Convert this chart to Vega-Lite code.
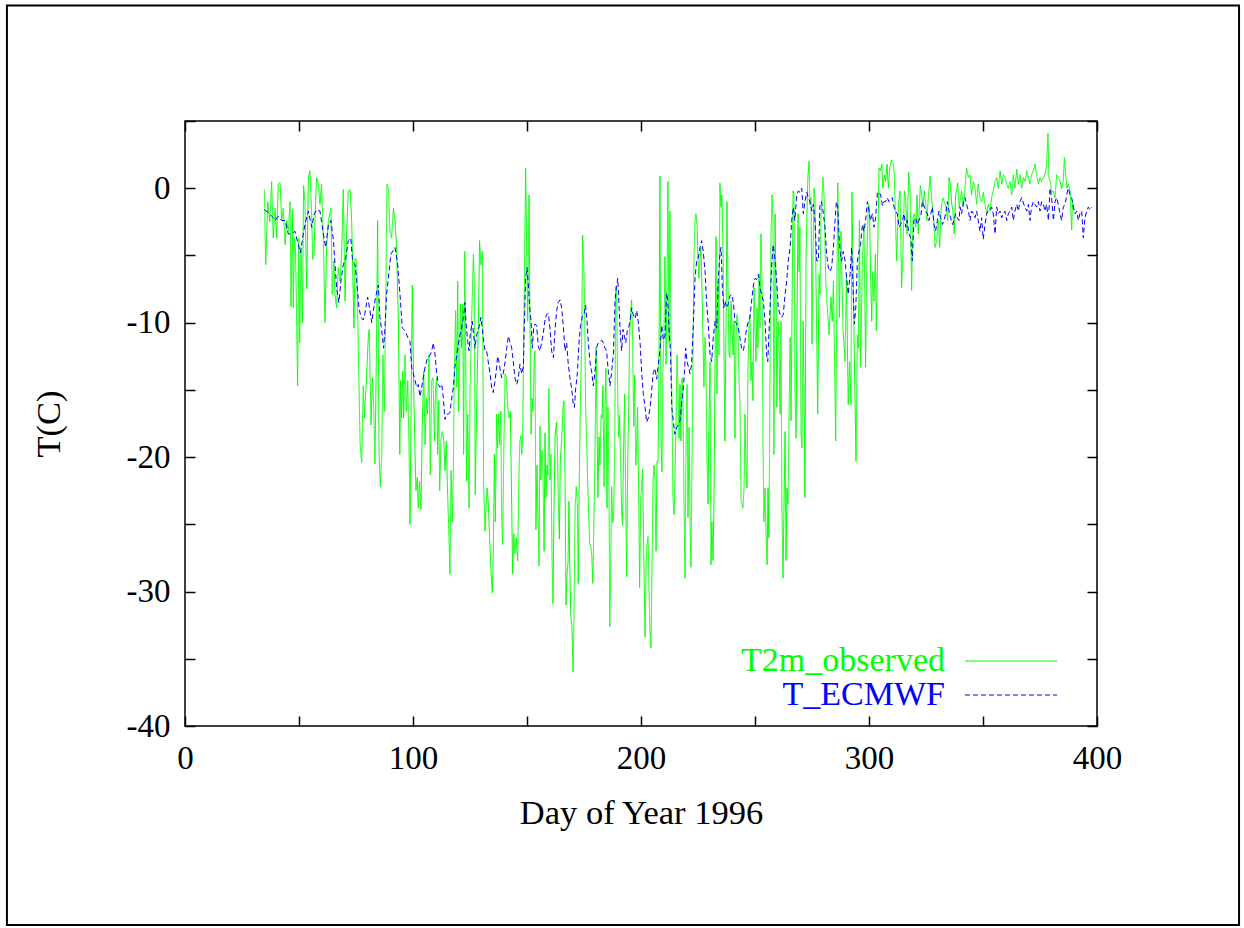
{
"$schema": "https://vega.github.io/schema/vega-lite/v6.json",
"width": 912, "height": 605,
"autosize": {"type": "none"},
"padding": {"left": 185, "top": 121, "right": 147, "bottom": 202},
"background": "white",
"config": {
"view": {"stroke": "black", "strokeWidth": 1.5},
"font": "Liberation Serif",
"legend": {"orient": "none", "legendX": 809, "legendY": 523, "padding": 0, "symbolType": "M-46,0H46", "symbolSize": 4, "symbolStrokeWidth": 1, "labelFont": "Liberation Serif", "labelFontSize": 34, "labelAlign": "right", "labelOffset": -83, "labelLimit": 500, "rowPadding": -6}
},
"datasets": {
"obs": [
{"day":34.8,"temp":-0.1},{"day":35.4,"temp":-5.7},{"day":36.3,"temp":-1.0},{"day":37.2,"temp":-2.5},{"day":38.0,"temp":0.5},{"day":38.7,"temp":-3.7},{"day":39.5,"temp":-1.5},{"day":40.2,"temp":-3.7},{"day":40.9,"temp":0.3},{"day":41.7,"temp":0.4},{"day":42.4,"temp":-2.4},{"day":43.1,"temp":-1.5},{"day":43.9,"temp":-4.2},{"day":44.6,"temp":-2.4},{"day":45.3,"temp":-3.2},{"day":46.1,"temp":-1.0},{"day":46.5,"temp":-8.8},{"day":47.1,"temp":-1.6},{"day":47.5,"temp":-8.9},{"day":48.0,"temp":-3.7},{"day":48.5,"temp":-4.7},{"day":49.4,"temp":-14.7},{"day":49.9,"temp":-3.7},{"day":50.3,"temp":-11.5},{"day":50.9,"temp":-4.4},{"day":51.5,"temp":-10.0},{"day":52.0,"temp":0.2},{"day":52.6,"temp":-1.0},{"day":53.4,"temp":-7.5},{"day":54.1,"temp":0.8},{"day":54.8,"temp":1.3},{"day":55.6,"temp":-2.2},{"day":56.0,"temp":-5.3},{"day":56.6,"temp":-4.9},{"day":57.0,"temp":-2.4},{"day":57.7,"temp":0.8},{"day":58.5,"temp":0.3},{"day":59.2,"temp":-1.2},{"day":59.9,"temp":0.3},{"day":60.7,"temp":-3.9},{"day":61.4,"temp":-10.0},{"day":62.1,"temp":-4.4},{"day":62.9,"temp":-2.4},{"day":64.0,"temp":-1.5},{"day":64.6,"temp":-7.9},{"day":65.3,"temp":-5.4},{"day":65.8,"temp":-7.9},{"day":66.5,"temp":-8.9},{"day":67.2,"temp":-5.9},{"day":68.0,"temp":-6.9},{"day":68.7,"temp":-4.9},{"day":69.4,"temp":-0.1},{"day":70.2,"temp":-8.4},{"day":70.9,"temp":-3.2},{"day":71.6,"temp":-0.2},{"day":72.4,"temp":-0.1},{"day":73.1,"temp":-2.4},{"day":74.1,"temp":-10.4},{"day":74.6,"temp":-5.2},{"day":75.3,"temp":-5.4},{"day":76.8,"temp":-19.1},{"day":77.5,"temp":-20.4},{"day":78.2,"temp":-14.7},{"day":78.7,"temp":-17.1},{"day":79.4,"temp":-14.8},{"day":80.4,"temp":-11.1},{"day":80.8,"temp":-10.5},{"day":81.6,"temp":-17.6},{"day":82.2,"temp":-14.1},{"day":82.7,"temp":-15.8},{"day":83.3,"temp":-20.5},{"day":83.9,"temp":-12.9},{"day":84.5,"temp":-2.4},{"day":85.1,"temp":-19.8},{"day":85.7,"temp":-22.2},{"day":86.3,"temp":-19.8},{"day":86.8,"temp":-12.4},{"day":87.4,"temp":-16.6},{"day":88.0,"temp":-9.4},{"day":88.6,"temp":0.3},{"day":89.2,"temp":0.0},{"day":89.9,"temp":-3.2},{"day":90.6,"temp":-3.7},{"day":91.4,"temp":-1.5},{"day":92.1,"temp":-2.4},
{"day":92.8,"temp":-4.4},{"day":93.6,"temp":-9.9},{"day":94.2,"temp":-19.8},{"day":94.6,"temp":-14.3},{"day":95.0,"temp":-17.1},{"day":95.5,"temp":-13.6},{"day":95.9,"temp":-17.1},{"day":96.5,"temp":-12.4},{"day":97.1,"temp":-16.6},{"day":97.7,"temp":-14.3},{"day":98.3,"temp":-19.8},{"day":98.7,"temp":-25.0},{"day":99.1,"temp":-17.3},{"day":99.7,"temp":-7.2},{"day":100.3,"temp":-14.8},{"day":100.9,"temp":-19.8},{"day":101.3,"temp":-22.5},{"day":101.9,"temp":-21.5},{"day":102.3,"temp":-23.8},{"day":102.9,"temp":-21.8},{"day":103.5,"temp":-23.9},{"day":104.1,"temp":-17.3},{"day":104.7,"temp":-13.6},{"day":105.3,"temp":-19.1},{"day":105.9,"temp":-15.6},{"day":106.4,"temp":-16.8},{"day":107.0,"temp":-12.4},{"day":107.6,"temp":-21.3},{"day":108.2,"temp":-14.3},{"day":108.8,"temp":-14.1},{"day":109.4,"temp":-18.8},{"day":109.9,"temp":-14.8},{"day":110.4,"temp":-14.1},{"day":110.8,"temp":-19.8},{"day":111.3,"temp":-15.8},{"day":111.7,"temp":-22.5},{"day":112.3,"temp":-18.6},{"day":112.9,"temp":-18.1},{"day":113.5,"temp":-18.8},{"day":114.0,"temp":-21.0},{"day":114.6,"temp":-18.8},{"day":115.2,"temp":-22.8},{"day":115.8,"temp":-26.0},{"day":116.2,"temp":-28.7},{"day":116.7,"temp":-21.0},{"day":117.3,"temp":-24.8},{"day":117.7,"temp":-21.0},{"day":118.1,"temp":-13.8},{"day":118.7,"temp":-9.1},{"day":119.2,"temp":-14.8},{"day":119.6,"temp":-6.9},{"day":120.0,"temp":-16.6},{"day":120.5,"temp":-12.4},{"day":120.9,"temp":-8.6},{"day":121.3,"temp":-11.9},{"day":121.8,"temp":-8.6},{"day":122.2,"temp":-19.8},{"day":122.7,"temp":-4.7},{"day":123.1,"temp":-12.4},{"day":123.5,"temp":-21.8},{"day":124.0,"temp":-16.8},{"day":124.6,"temp":-23.8},{"day":125.0,"temp":-15.3},{"day":125.7,"temp":-9.9},{"day":126.5,"temp":-4.9},{"day":126.9,"temp":-7.4},{"day":127.3,"temp":-22.8},{"day":127.9,"temp":-16.3},{"day":128.7,"temp":-9.9},{"day":129.2,"temp":-3.9},{"day":129.8,"temp":-5.7},{"day":130.4,"temp":-4.7},{"day":131.0,"temp":-22.3},{"day":131.6,"temp":-25.5},{"day":132.0,"temp":-23.8},{"day":132.5,"temp":-22.3},{"day":133.0,"temp":-23.3},{"day":133.6,"temp":-26.0},{"day":134.2,"temp":-28.5},{"day":134.8,"temp":-30.1},{"day":135.2,"temp":-27.2},{"day":135.7,"temp":-19.8},{"day":136.1,"temp":-24.8},{"day":136.7,"temp":-16.8},{"day":137.1,"temp":-19.3},{"day":137.6,"temp":-16.8},{"day":138.0,"temp":-19.1},{"day":138.5,"temp":-16.6},{"day":138.9,"temp":-24.3},{"day":139.3,"temp":-26.5},{"day":139.8,"temp":-19.8},{"day":140.4,"temp":-13.8},{"day":140.9,"temp":-14.1},{"day":141.5,"temp":-16.1},{"day":142.1,"temp":-17.1},{"day":142.7,"temp":-16.6},{"day":143.3,"temp":-23.8},{"day":143.7,"temp":-28.7},{"day":144.2,"temp":-25.7},{"day":144.7,"temp":-27.2},{"day":145.3,"temp":-26.0},{"day":145.9,"temp":-27.7},{"day":146.5,"temp":-21.0},{"day":146.9,"temp":-18.8},{"day":147.4,"temp":-18.4},{"day":147.7,"temp":-19.8},{"day":148.1,"temp":-18.6},{"day":148.5,"temp":-12.4},{"day":149.0,"temp":-4.9},{"day":149.4,"temp":1.5},{"day":149.9,"temp":-4.9},{"day":150.3,"temp":-9.9},{"day":150.9,"temp":-0.5},{"day":151.3,"temp":-9.9},{"day":151.8,"temp":-18.3},{"day":152.2,"temp":-15.6},{"day":152.6,"temp":-16.6},{"day":153.2,"temp":-12.4},
{"day":153.5,"temp":-12.1},{"day":153.9,"temp":-25.4},{"day":154.4,"temp":-20.6},{"day":154.8,"temp":-24.1},{"day":155.3,"temp":-28.1},{"day":155.7,"temp":-17.7},{"day":156.1,"temp":-21.7},{"day":156.6,"temp":-19.5},{"day":157.0,"temp":-21.4},{"day":157.5,"temp":-27.0},{"day":157.9,"temp":-18.2},{"day":158.3,"temp":-23.0},{"day":158.8,"temp":-20.6},{"day":159.2,"temp":-21.4},{"day":159.6,"temp":-14.9},{"day":160.1,"temp":-21.7},{"day":160.5,"temp":-19.8},{"day":161.0,"temp":-27.8},{"day":161.4,"temp":-30.9},{"day":161.8,"temp":-24.3},{"day":162.3,"temp":-18.5},{"day":162.9,"temp":-17.4},{"day":163.3,"temp":-19.0},{"day":163.7,"temp":-23.0},{"day":164.2,"temp":-26.1},{"day":164.6,"temp":-20.3},{"day":165.2,"temp":-18.7},{"day":165.8,"temp":-16.3},{"day":166.2,"temp":-15.8},{"day":166.7,"temp":-21.7},{"day":167.1,"temp":-31.0},{"day":167.5,"temp":-28.9},{"day":168.0,"temp":-27.8},{"day":168.4,"temp":-23.3},{"day":168.7,"temp":-27.5},{"day":169.2,"temp":-31.8},{"day":169.7,"temp":-32.6},{"day":170.2,"temp":-36.0},{"day":170.6,"temp":-31.8},{"day":171.1,"temp":-23.8},{"day":171.6,"temp":-22.2},{"day":172.1,"temp":-23.5},{"day":172.5,"temp":-29.4},{"day":172.9,"temp":-21.7},{"day":173.4,"temp":-16.3},{"day":174.0,"temp":-11.0},{"day":174.4,"temp":-3.5},{"day":174.9,"temp":-5.7},{"day":175.3,"temp":-8.9},{"day":175.7,"temp":-16.3},{"day":176.2,"temp":-19.0},{"day":176.6,"temp":-21.7},{"day":177.1,"temp":-24.6},{"day":177.5,"temp":-26.5},{"day":177.9,"temp":-26.5},{"day":178.4,"temp":-27.3},{"day":178.9,"temp":-29.4},{"day":179.4,"temp":-24.1},{"day":179.8,"temp":-20.3},{"day":180.3,"temp":-11.8},{"day":180.7,"temp":-17.1},{"day":181.1,"temp":-23.0},{"day":181.6,"temp":-18.5},{"day":182.0,"temp":-20.6},{"day":182.5,"temp":-16.9},{"day":182.9,"temp":-17.1},{"day":183.3,"temp":-14.7},{"day":183.8,"temp":-22.2},{"day":184.2,"temp":-16.3},{"day":184.6,"temp":-13.4},{"day":185.1,"temp":-23.8},{"day":185.5,"temp":-16.3},{"day":186.0,"temp":-23.0},{"day":186.3,"temp":-32.6},{"day":186.7,"temp":-28.3},{"day":187.1,"temp":-22.2},{"day":187.6,"temp":-24.9},{"day":188.0,"temp":-24.3},{"day":188.5,"temp":-19.0},{"day":188.9,"temp":-7.3},{"day":189.3,"temp":-7.8},{"day":189.8,"temp":-15.8},{"day":190.2,"temp":-18.5},{"day":190.6,"temp":-16.9},{"day":191.1,"temp":-20.6},{"day":191.5,"temp":-24.1},{"day":191.9,"temp":-25.1},{"day":192.4,"temp":-19.0},{"day":192.8,"temp":-15.3},{"day":193.3,"temp":-23.0},{"day":193.7,"temp":-28.9},{"day":194.2,"temp":-20.1},{"day":194.6,"temp":-16.3},{"day":195.0,"temp":-11.0},{"day":195.5,"temp":-9.1},{"day":195.9,"temp":-8.3},{"day":196.3,"temp":-11.0},{"day":196.8,"temp":-17.7},{"day":197.2,"temp":-13.9},{"day":197.7,"temp":-20.6},{"day":198.1,"temp":-19.0},{"day":198.5,"temp":-16.3},{"day":199.0,"temp":-23.0},{"day":199.4,"temp":-29.7},{"day":199.9,"temp":-23.0},{"day":200.3,"temp":-22.2},{"day":200.7,"temp":-20.9},{"day":201.2,"temp":-27.0},{"day":201.8,"temp":-33.4},{"day":202.2,"temp":-28.3},{"day":202.6,"temp":-26.5},{"day":203.1,"temp":-25.9},{"day":203.5,"temp":-29.7},{"day":203.9,"temp":-32.9},{"day":204.4,"temp":-34.2},{"day":204.8,"temp":-28.6},{"day":205.3,"temp":-21.7},{"day":205.7,"temp":-20.6},{"day":206.1,"temp":-21.7},{"day":206.6,"temp":-27.0},{"day":207.0,"temp":-20.3},{"day":207.5,"temp":-20.3},{"day":207.9,"temp":-12.3},{"day":208.3,"temp":0.9},{"day":208.8,"temp":-19.0},{"day":209.2,"temp":-21.1},{"day":209.6,"temp":-13.7},{"day":210.1,"temp":-10.5},{"day":210.5,"temp":-5.1},{"day":211.0,"temp":-13.1},{"day":211.4,"temp":-7.0},{"day":211.8,"temp":0.5},{"day":212.3,"temp":-11.5},{"day":212.7,"temp":-1.7},{"day":213.2,"temp":-12.3},{"day":213.6,"temp":-16.3},{"day":214.0,"temp":-23.0},{"day":214.5,"temp":-24.3},
{"day":214.9,"temp":-21.5},{"day":215.4,"temp":-17.3},{"day":215.8,"temp":-12.4},{"day":216.2,"temp":-14.8},{"day":216.7,"temp":-18.6},{"day":217.1,"temp":-14.6},{"day":217.5,"temp":-18.8},{"day":218.0,"temp":-14.1},{"day":218.4,"temp":-15.6},{"day":218.9,"temp":-24.0},{"day":219.3,"temp":-29.0},{"day":219.7,"temp":-19.8},{"day":220.2,"temp":-14.6},{"day":220.6,"temp":-24.5},{"day":221.1,"temp":-17.8},{"day":221.5,"temp":-24.8},{"day":221.9,"temp":-28.2},{"day":222.4,"temp":-19.8},{"day":222.8,"temp":-12.4},{"day":223.2,"temp":-5.4},{"day":223.7,"temp":-2.4},{"day":224.1,"temp":-1.9},{"day":224.6,"temp":-2.7},{"day":225.0,"temp":-5.4},{"day":225.4,"temp":-6.7},{"day":225.9,"temp":-5.2},{"day":226.3,"temp":-4.4},{"day":226.8,"temp":-7.9},{"day":227.2,"temp":-11.4},{"day":227.6,"temp":-14.8},{"day":228.1,"temp":-11.1},{"day":228.5,"temp":-13.6},{"day":228.9,"temp":-19.8},{"day":229.4,"temp":-23.5},{"day":229.8,"temp":-17.3},{"day":230.3,"temp":-12.9},{"day":230.7,"temp":-28.0},{"day":231.1,"temp":-24.8},{"day":231.6,"temp":-27.7},{"day":232.0,"temp":-23.5},{"day":232.5,"temp":-12.4},{"day":232.9,"temp":-3.6},{"day":233.3,"temp":-15.3},{"day":233.8,"temp":-6.9},{"day":234.2,"temp":-12.4},{"day":234.6,"temp":0.4},{"day":235.1,"temp":-1.4},{"day":235.5,"temp":-0.5},{"day":236.0,"temp":-4.9},{"day":236.4,"temp":-12.4},{"day":236.8,"temp":-18.8},{"day":237.3,"temp":-9.9},{"day":237.7,"temp":-1.0},{"day":238.2,"temp":-7.9},{"day":238.6,"temp":-12.4},{"day":239.0,"temp":-12.6},{"day":239.5,"temp":-8.4},{"day":239.9,"temp":-10.4},{"day":240.4,"temp":-12.4},{"day":240.8,"temp":-9.9},{"day":241.2,"temp":-18.6},{"day":241.7,"temp":-10.9},{"day":242.1,"temp":-9.4},{"day":242.5,"temp":-10.1},{"day":243.0,"temp":-14.3},{"day":243.4,"temp":-15.8},{"day":243.9,"temp":-23.3},{"day":244.3,"temp":-23.5},{"day":244.7,"temp":-23.8},{"day":245.2,"temp":-22.3},{"day":245.6,"temp":-16.8},{"day":246.1,"temp":-21.0},{"day":246.5,"temp":-22.3},{"day":246.9,"temp":-13.6},{"day":247.4,"temp":-9.9},{"day":247.8,"temp":-9.4},{"day":248.2,"temp":-14.3},{"day":248.7,"temp":-12.9},{"day":249.1,"temp":-15.8},{"day":249.6,"temp":-7.4},{"day":250.0,"temp":-10.4},{"day":250.4,"temp":-12.9},{"day":250.9,"temp":-8.9},{"day":251.3,"temp":-11.9},{"day":251.8,"temp":-6.4},{"day":252.2,"temp":-10.4},{"day":252.6,"temp":-3.4},{"day":253.1,"temp":-7.4},{"day":253.5,"temp":-18.8},{"day":253.9,"temp":-24.8},{"day":254.4,"temp":-22.3},{"day":254.8,"temp":-25.3},{"day":255.3,"temp":-28.0},{"day":255.7,"temp":-22.3},{"day":256.1,"temp":-26.0},{"day":256.6,"temp":-13.6},{"day":257.0,"temp":-3.7},{"day":257.5,"temp":-0.5},{"day":257.9,"temp":-2.4},{"day":258.3,"temp":-19.8},{"day":258.8,"temp":-1.9},{"day":259.2,"temp":-7.4},{"day":259.6,"temp":-16.3},{"day":260.1,"temp":-9.9},{"day":260.5,"temp":-11.4},{"day":261.0,"temp":-16.8},{"day":261.4,"temp":-9.9},{"day":261.8,"temp":-23.5},{"day":262.3,"temp":-29.0},{"day":262.7,"temp":-24.0},{"day":263.2,"temp":-18.1},{"day":263.6,"temp":-27.7},{"day":264.0,"temp":-22.3},{"day":264.5,"temp":-23.5},{"day":264.9,"temp":-17.3},{"day":265.4,"temp":-11.1},{"day":265.8,"temp":-17.3},{"day":266.2,"temp":-9.9},{"day":266.7,"temp":-0.2},{"day":267.1,"temp":-0.5},{"day":267.5,"temp":-14.8},{"day":268.0,"temp":-18.6},{"day":268.4,"temp":-9.9},{"day":268.9,"temp":-1.9},{"day":269.3,"temp":-6.2},{"day":269.7,"temp":-2.9},{"day":270.2,"temp":-18.3},{"day":270.6,"temp":-19.3},{"day":271.1,"temp":-9.9},{"day":271.5,"temp":-14.8},{"day":271.9,"temp":-23.0},{"day":272.4,"temp":-4.9},{"day":272.8,"temp":-1.9},{"day":273.2,"temp":0.8},{"day":273.7,"temp":2.0},{"day":274.1,"temp":-1.2},{"day":274.6,"temp":-0.7},{"day":275.0,"temp":-11.6},{"day":275.4,"temp":-5.4},{"day":275.9,"temp":0.0},{"day":276.3,"temp":-0.7},
{"day":277.5,"temp":-16.8},{"day":278.1,"temp":-6.4},{"day":278.5,"temp":-7.9},{"day":278.9,"temp":-2.4},{"day":279.8,"temp":0.8},{"day":280.4,"temp":-1.0},{"day":281.0,"temp":-6.9},{"day":282.5,"temp":-10.9},{"day":283.3,"temp":-8.1},{"day":283.9,"temp":-9.9},{"day":284.4,"temp":-6.9},{"day":285.4,"temp":-18.8},{"day":286.3,"temp":0.4},{"day":287.0,"temp":-9.6},{"day":287.7,"temp":-3.2},{"day":288.6,"temp":-10.4},{"day":289.5,"temp":-12.9},{"day":290.1,"temp":-6.4},{"day":290.9,"temp":-16.1},{"day":291.5,"temp":-12.9},{"day":292.1,"temp":-16.1},{"day":292.5,"temp":-0.3},{"day":293.1,"temp":-7.4},{"day":294.3,"temp":-20.3},{"day":294.9,"temp":-10.9},{"day":295.3,"temp":-11.9},{"day":295.8,"temp":-2.4},{"day":296.3,"temp":-13.3},{"day":297.1,"temp":-5.4},{"day":297.8,"temp":-2.7},{"day":298.5,"temp":-13.3},{"day":299.1,"temp":-4.9},{"day":299.7,"temp":-1.2},{"day":300.2,"temp":-1.4},{"day":300.7,"temp":-6.4},{"day":301.2,"temp":-9.9},{"day":301.6,"temp":-6.2},{"day":302.2,"temp":-8.4},{"day":302.8,"temp":-4.9},{"day":303.2,"temp":-10.6},{"day":303.8,"temp":-4.9},{"day":304.4,"temp":1.5},{"day":305.0,"temp":1.3},{"day":305.6,"temp":1.8},{"day":306.1,"temp":0.0},{"day":306.7,"temp":1.0},{"day":307.3,"temp":0.5},{"day":307.9,"temp":1.8},{"day":308.5,"temp":0.0},{"day":309.1,"temp":1.5},{"day":309.9,"temp":2.1},{"day":310.7,"temp":1.8},{"day":311.1,"temp":1.0},{"day":312.1,"temp":-5.4},{"day":312.9,"temp":-1.2},{"day":313.6,"temp":-0.2},{"day":314.3,"temp":-7.4},{"day":314.8,"temp":-5.4},{"day":315.5,"temp":-0.2},{"day":316.1,"temp":-1.0},{"day":316.7,"temp":-3.4},{"day":317.4,"temp":1.2},{"day":318.0,"temp":0.0},{"day":318.7,"temp":-7.6},{"day":319.3,"temp":-2.2},{"day":319.9,"temp":-1.9},{"day":320.5,"temp":-2.9},{"day":321.1,"temp":-0.5},{"day":321.6,"temp":-3.4},{"day":322.5,"temp":0.2},{"day":323.1,"temp":-0.5},{"day":323.7,"temp":-1.4},{"day":324.3,"temp":-0.2},{"day":324.9,"temp":-1.2},{"day":325.4,"temp":-2.4},{"day":326.0,"temp":-0.7},{"day":326.8,"temp":0.9},{"day":327.2,"temp":-0.2},{"day":327.8,"temp":-1.4},{"day":328.4,"temp":-2.4},{"day":329.0,"temp":-4.4},{"day":329.7,"temp":-3.9},{"day":330.4,"temp":-2.4},{"day":331.0,"temp":-4.4},{"day":331.6,"temp":-1.7},{"day":332.3,"temp":-0.7},{"day":333.0,"temp":-1.0},{"day":333.8,"temp":-1.4},{"day":334.5,"temp":-2.4},{"day":335.1,"temp":0.8},{"day":335.7,"temp":0.3},{"day":336.3,"temp":-1.2},{"day":336.8,"temp":-1.7},{"day":337.4,"temp":-3.4},{"day":338.0,"temp":-0.5},{"day":338.9,"temp":0.4},{"day":339.5,"temp":-1.4},
{"day":339.9,"temp":-1.0},{"day":340.6,"temp":-0.2},{"day":341.4,"temp":-1.4},{"day":342.1,"temp":0.0},{"day":342.8,"temp":1.5},{"day":343.6,"temp":0.8},{"day":344.3,"temp":1.0},{"day":345.0,"temp":-0.5},{"day":345.8,"temp":0.5},{"day":346.5,"temp":0.0},{"day":347.2,"temp":-1.2},{"day":347.9,"temp":0.3},{"day":348.7,"temp":-0.7},{"day":349.4,"temp":-1.0},{"day":350.1,"temp":-0.3},{"day":350.9,"temp":-1.2},{"day":351.6,"temp":-1.9},{"day":352.3,"temp":-1.2},{"day":353.1,"temp":-1.7},{"day":353.8,"temp":-0.7},{"day":354.5,"temp":-0.2},{"day":355.3,"temp":0.5},{"day":356.0,"temp":0.8},{"day":356.7,"temp":0.0},{"day":357.5,"temp":1.3},{"day":358.2,"temp":0.3},{"day":358.9,"temp":1.0},{"day":359.6,"temp":0.8},{"day":360.4,"temp":0.3},{"day":361.1,"temp":0.0},{"day":361.8,"temp":0.5},{"day":362.6,"temp":-0.5},{"day":363.3,"temp":1.0},{"day":364.0,"temp":0.0},{"day":364.8,"temp":1.4},{"day":365.5,"temp":0.3},{"day":366.2,"temp":1.0},{"day":367.0,"temp":0.0},{"day":367.7,"temp":0.8},{"day":368.4,"temp":0.5},{"day":369.2,"temp":1.3},{"day":369.9,"temp":0.8},{"day":370.6,"temp":0.3},{"day":371.3,"temp":1.0},{"day":372.1,"temp":1.3},{"day":372.8,"temp":1.8},{"day":373.5,"temp":1.0},{"day":374.3,"temp":0.3},{"day":375.0,"temp":0.8},{"day":375.7,"temp":0.5},{"day":376.5,"temp":0.8},{"day":377.2,"temp":1.0},{"day":377.9,"temp":1.8},{"day":378.5,"temp":4.1},{"day":378.9,"temp":0.8},{"day":379.5,"temp":0.5},{"day":380.1,"temp":-0.3},{"day":380.9,"temp":-0.2},{"day":381.6,"temp":-0.7},{"day":382.3,"temp":1.0},{"day":383.0,"temp":0.8},{"day":383.8,"temp":0.5},{"day":384.5,"temp":0.0},{"day":385.2,"temp":0.5},{"day":385.7,"temp":2.3},{"day":386.3,"temp":1.0},{"day":386.8,"temp":0.0},{"day":387.4,"temp":0.3},{"day":388.2,"temp":-0.2},{"day":388.9,"temp":-3.1},{"day":389.3,"temp":-1.0},{"day":389.9,"temp":-1.7}
],
"ecm": [
{"day":34.8,"temp":-1.6},{"day":36.5,"temp":-1.8},{"day":38.7,"temp":-2.2},{"day":39.5,"temp":-2.4},{"day":40.9,"temp":-2.1},{"day":42.4,"temp":-2.4},{"day":43.9,"temp":-2.4},{"day":45.3,"temp":-3.4},{"day":46.8,"temp":-3.4},{"day":48.2,"temp":-3.2},{"day":49.7,"temp":-4.2},{"day":50.6,"temp":-4.8},{"day":51.9,"temp":-3.4},{"day":52.6,"temp":-2.7},{"day":54.1,"temp":-1.7},{"day":55.6,"temp":-2.9},{"day":56.7,"temp":-1.9},{"day":57.7,"temp":-1.6},{"day":59.2,"temp":-1.7},{"day":60.7,"temp":-3.4},{"day":61.7,"temp":-4.4},{"day":62.9,"temp":-2.7},{"day":64.0,"temp":-2.4},{"day":65.1,"temp":-3.9},{"day":66.5,"temp":-7.4},{"day":67.5,"temp":-8.5},{"day":68.4,"temp":-6.9},{"day":69.4,"temp":-5.7},{"day":70.5,"temp":-5.2},{"day":71.6,"temp":-3.9},{"day":72.7,"temp":-3.7},{"day":73.5,"temp":-5.4},{"day":74.6,"temp":-5.7},{"day":75.3,"temp":-6.9},{"day":76.3,"temp":-8.9},{"day":77.2,"temp":-9.6},{"day":78.2,"temp":-9.8},{"day":78.9,"temp":-9.3},{"day":80.1,"temp":-8.1},{"day":81.1,"temp":-9.1},{"day":81.9,"temp":-10.0},{"day":82.6,"temp":-9.1},{"day":83.6,"temp":-8.1},{"day":84.8,"temp":-7.2},{"day":85.5,"temp":-9.6},{"day":86.3,"temp":-10.6},{"day":87.1,"temp":-11.9},{"day":87.7,"temp":-10.4},{"day":88.4,"temp":-7.9},{"day":89.5,"temp":-6.2},{"day":90.3,"temp":-4.9},{"day":91.4,"temp":-4.6},
{"day":92.1,"temp":-4.4},{"day":93.3,"temp":-5.7},{"day":94.3,"temp":-7.9},{"day":95.3,"temp":-10.4},{"day":96.5,"temp":-10.6},{"day":97.7,"temp":-11.1},{"day":98.7,"temp":-11.4},{"day":99.4,"temp":-13.3},{"day":100.2,"temp":-13.8},{"day":100.9,"temp":-14.3},{"day":101.6,"temp":-14.8},{"day":102.3,"temp":-14.6},{"day":103.1,"temp":-15.5},{"day":103.8,"temp":-14.8},{"day":104.5,"temp":-14.1},{"day":105.3,"temp":-13.3},{"day":106.4,"temp":-12.6},{"day":107.5,"temp":-12.4},{"day":108.2,"temp":-12.1},{"day":108.9,"temp":-11.5},{"day":109.7,"temp":-12.4},{"day":110.4,"temp":-13.8},{"day":111.1,"temp":-14.6},{"day":111.8,"temp":-14.8},{"day":112.6,"temp":-14.6},{"day":113.3,"temp":-15.6},{"day":114.0,"temp":-17.2},{"day":114.8,"temp":-16.8},{"day":115.5,"temp":-16.8},{"day":116.2,"temp":-16.7},{"day":117.0,"temp":-15.6},{"day":117.7,"temp":-14.8},{"day":118.4,"temp":-13.3},{"day":119.2,"temp":-12.4},{"day":119.9,"temp":-11.6},{"day":120.6,"temp":-10.9},{"day":121.3,"temp":-10.4},{"day":122.1,"temp":-9.6},{"day":122.8,"temp":-8.5},{"day":123.2,"temp":-9.9},{"day":124.0,"temp":-11.4},{"day":124.6,"temp":-12.1},{"day":125.1,"temp":-10.9},{"day":126.0,"temp":-9.9},{"day":126.6,"temp":-10.9},{"day":127.2,"temp":-11.9},{"day":127.9,"temp":-10.9},{"day":128.9,"temp":-10.4},{"day":129.8,"temp":-9.6},{"day":130.4,"temp":-10.4},{"day":131.0,"temp":-11.4},{"day":131.6,"temp":-12.1},{"day":132.3,"temp":-12.1},{"day":133.0,"temp":-12.9},{"day":133.8,"temp":-13.8},{"day":134.5,"temp":-14.8},{"day":135.2,"temp":-15.2},{"day":136.0,"temp":-14.3},{"day":136.7,"temp":-13.3},{"day":137.1,"temp":-12.5},{"day":137.7,"temp":-12.9},{"day":138.3,"temp":-13.6},{"day":138.9,"temp":-14.1},{"day":139.6,"temp":-13.8},{"day":140.4,"temp":-12.9},{"day":141.1,"temp":-11.9},{"day":141.8,"temp":-11.0},{"day":142.5,"temp":-11.4},{"day":143.3,"temp":-11.9},{"day":144.0,"temp":-12.9},{"day":144.7,"temp":-14.1},{"day":145.5,"temp":-14.6},{"day":146.2,"temp":-14.1},{"day":146.9,"temp":-13.1},{"day":147.7,"temp":-13.8},{"day":148.4,"temp":-13.3},{"day":148.8,"temp":-10.4},{"day":149.4,"temp":-6.7},{"day":150.0,"temp":-5.9},{"day":150.6,"temp":-7.2},{"day":151.2,"temp":-8.9},{"day":151.8,"temp":-9.9},{"day":152.3,"temp":-11.9},{"day":152.9,"temp":-10.4},
{"day":153.5,"temp":-10.1},{"day":154.2,"temp":-10.2},{"day":155.0,"temp":-11.8},{"day":155.7,"temp":-12.1},{"day":156.4,"temp":-11.5},{"day":157.2,"temp":-10.7},{"day":157.9,"temp":-9.8},{"day":158.6,"temp":-9.4},{"day":159.4,"temp":-9.3},{"day":160.1,"temp":-10.5},{"day":160.8,"temp":-12.1},{"day":161.6,"temp":-12.6},{"day":162.3,"temp":-10.5},{"day":163.0,"temp":-9.1},{"day":163.7,"temp":-8.5},{"day":164.5,"temp":-8.3},{"day":165.2,"temp":-8.9},{"day":165.9,"temp":-10.2},{"day":166.7,"temp":-12.1},{"day":167.4,"temp":-11.5},{"day":168.1,"temp":-13.1},{"day":168.9,"temp":-14.2},{"day":169.6,"temp":-14.9},{"day":170.3,"temp":-16.1},{"day":170.8,"temp":-16.3},{"day":171.3,"temp":-15.0},{"day":172.1,"temp":-13.7},{"day":172.8,"temp":-11.5},{"day":173.5,"temp":-10.2},{"day":174.3,"temp":-9.5},{"day":175.0,"temp":-9.4},{"day":175.7,"temp":-8.7},{"day":176.3,"temp":-9.9},{"day":176.9,"temp":-11.5},{"day":177.6,"temp":-12.9},{"day":178.4,"temp":-13.7},{"day":179.1,"temp":-14.7},{"day":179.8,"temp":-13.7},{"day":180.6,"temp":-11.8},{"day":181.3,"temp":-11.5},{"day":182.0,"temp":-11.4},{"day":182.8,"temp":-11.3},{"day":183.5,"temp":-11.5},{"day":184.2,"temp":-11.9},{"day":184.9,"temp":-12.1},{"day":185.7,"temp":-13.7},{"day":186.4,"temp":-14.7},{"day":187.1,"temp":-13.7},{"day":187.9,"temp":-12.3},{"day":188.6,"temp":-8.3},{"day":189.3,"temp":-7.3},{"day":189.8,"temp":-6.7},{"day":190.4,"temp":-8.9},{"day":190.9,"temp":-10.7},{"day":191.5,"temp":-12.1},{"day":192.1,"temp":-10.5},{"day":192.7,"temp":-11.0},{"day":193.3,"temp":-11.5},{"day":193.9,"temp":-10.7},{"day":194.4,"temp":-10.5},{"day":195.2,"temp":-9.9},{"day":195.9,"temp":-8.9},{"day":196.6,"temp":-9.4},{"day":197.4,"temp":-9.7},{"day":198.1,"temp":-9.1},{"day":198.8,"temp":-9.9},{"day":199.6,"temp":-11.5},{"day":200.3,"temp":-13.7},{"day":201.0,"temp":-15.3},{"day":201.8,"temp":-16.3},{"day":202.5,"temp":-17.4},{"day":203.2,"temp":-17.1},{"day":204.0,"temp":-16.3},{"day":204.7,"temp":-15.0},{"day":205.4,"temp":-13.7},{"day":206.1,"temp":-13.4},{"day":206.9,"temp":-14.2},{"day":207.6,"temp":-13.1},{"day":208.3,"temp":-12.1},{"day":209.1,"temp":-10.2},{"day":209.8,"temp":-11.3},{"day":210.5,"temp":-11.0},{"day":211.3,"temp":-7.8},{"day":211.7,"temp":-8.3},{"day":212.3,"temp":-10.5},{"day":212.9,"temp":-12.1},{"day":213.5,"temp":-16.3},{"day":214.2,"temp":-17.4},
{"day":214.9,"temp":-18.3},{"day":215.6,"temp":-17.8},{"day":216.4,"temp":-17.6},{"day":217.1,"temp":-17.3},{"day":217.5,"temp":-16.6},{"day":218.1,"temp":-15.6},{"day":218.6,"temp":-14.8},{"day":219.0,"temp":-13.8},{"day":219.6,"temp":-11.9},{"day":220.2,"temp":-12.9},{"day":220.8,"temp":-13.3},{"day":221.5,"temp":-13.8},{"day":222.2,"temp":-13.1},{"day":223.0,"temp":-9.9},{"day":223.7,"temp":-6.7},{"day":224.4,"temp":-5.4},{"day":225.1,"temp":-5.2},{"day":225.9,"temp":-4.4},{"day":226.6,"temp":-3.9},{"day":227.3,"temp":-4.7},{"day":228.1,"temp":-6.2},{"day":228.8,"temp":-8.6},{"day":229.5,"temp":-10.1},{"day":230.3,"temp":-12.4},{"day":231.0,"temp":-12.9},{"day":231.7,"temp":-11.1},{"day":232.5,"temp":-9.9},{"day":233.2,"temp":-10.4},{"day":233.9,"temp":-6.7},{"day":234.6,"temp":-4.9},{"day":235.1,"temp":-4.4},{"day":235.7,"temp":-7.4},{"day":236.3,"temp":-8.9},{"day":236.8,"temp":-8.4},{"day":237.6,"temp":-8.9},{"day":238.3,"temp":-8.6},{"day":239.0,"temp":-8.0},{"day":239.8,"temp":-7.9},{"day":240.5,"temp":-8.5},{"day":241.2,"temp":-9.9},{"day":242.0,"temp":-10.1},{"day":242.7,"temp":-10.4},{"day":243.4,"temp":-11.1},{"day":244.1,"temp":-11.9},{"day":244.9,"temp":-12.1},{"day":245.6,"temp":-11.4},{"day":246.3,"temp":-10.4},{"day":247.1,"temp":-9.9},{"day":247.8,"temp":-9.6},{"day":248.5,"temp":-8.4},{"day":249.3,"temp":-7.2},{"day":250.0,"temp":-6.7},{"day":250.7,"temp":-6.8},{"day":251.5,"temp":-6.4},{"day":252.2,"temp":-7.4},{"day":252.9,"temp":-7.9},{"day":253.7,"temp":-8.4},{"day":254.4,"temp":-9.9},{"day":255.1,"temp":-12.4},{"day":255.6,"temp":-12.9},{"day":256.1,"temp":-10.9},{"day":256.7,"temp":-8.4},{"day":257.3,"temp":-5.7},{"day":258.0,"temp":-4.2},{"day":258.8,"temp":-5.4},{"day":259.5,"temp":-6.9},{"day":260.2,"temp":-8.9},{"day":261.0,"temp":-9.4},{"day":261.7,"temp":-9.6},{"day":262.4,"temp":-9.4},{"day":263.2,"temp":-7.9},{"day":263.9,"temp":-6.9},{"day":264.6,"temp":-5.4},{"day":265.4,"temp":-4.4},{"day":266.1,"temp":-2.4},{"day":266.8,"temp":-1.4},{"day":267.5,"temp":-2.4},{"day":268.3,"temp":-0.5},{"day":269.0,"temp":-0.2},{"day":269.7,"temp":-0.3},{"day":270.5,"temp":0.0},{"day":271.2,"temp":-1.9},{"day":271.9,"temp":-1.0},{"day":272.7,"temp":-0.3},{"day":273.4,"temp":-0.7},{"day":274.1,"temp":-1.0},{"day":274.9,"temp":-1.7},{"day":275.6,"temp":-1.2},
{"day":276.3,"temp":-2.4},{"day":277.1,"temp":-5.4},{"day":277.8,"temp":-5.4},{"day":278.5,"temp":-1.2},{"day":279.2,"temp":-1.0},{"day":280.0,"temp":-1.9},{"day":280.7,"temp":-2.9},{"day":281.4,"temp":-4.9},{"day":282.2,"temp":-5.9},{"day":282.9,"temp":-6.2},{"day":283.6,"temp":-5.9},{"day":284.4,"temp":-4.4},{"day":285.1,"temp":-2.4},{"day":285.7,"temp":-1.0},{"day":286.3,"temp":-1.4},{"day":286.8,"temp":-3.4},{"day":287.4,"temp":-4.9},{"day":288.0,"temp":-5.4},{"day":288.7,"temp":-4.7},{"day":289.5,"temp":-5.4},{"day":290.2,"temp":-6.7},{"day":290.9,"temp":-7.9},{"day":291.7,"temp":-6.4},{"day":292.4,"temp":-4.4},{"day":293.1,"temp":-7.9},{"day":293.6,"temp":-10.1},{"day":294.2,"temp":-8.9},{"day":294.9,"temp":-5.4},{"day":295.6,"temp":-4.7},{"day":296.3,"temp":-4.2},{"day":297.1,"temp":-2.7},{"day":297.8,"temp":-3.2},{"day":298.5,"temp":-2.4},{"day":299.3,"temp":-1.0},{"day":300.0,"temp":-1.7},{"day":300.7,"temp":-2.4},{"day":301.5,"temp":-1.9},{"day":302.2,"temp":-2.9},{"day":302.9,"temp":-2.2},{"day":303.7,"temp":-0.3},{"day":304.4,"temp":-0.3},{"day":305.1,"temp":-0.5},{"day":305.9,"temp":-1.3},{"day":306.6,"temp":-1.0},{"day":307.3,"temp":-1.0},{"day":308.0,"temp":-0.7},{"day":308.8,"temp":-1.0},{"day":309.5,"temp":-0.8},{"day":310.2,"temp":-0.7},{"day":311.0,"temp":-1.4},{"day":311.7,"temp":-1.7},{"day":312.4,"temp":-1.9},{"day":313.2,"temp":-2.9},{"day":313.9,"temp":-2.7},{"day":314.6,"temp":-2.4},{"day":315.4,"temp":-1.9},{"day":316.1,"temp":-2.9},{"day":316.8,"temp":-2.4},{"day":317.5,"temp":-3.4},{"day":318.3,"temp":-3.7},{"day":319.0,"temp":-5.4},{"day":319.7,"temp":-2.4},{"day":320.5,"temp":-2.2},{"day":321.2,"temp":-2.7},{"day":321.9,"temp":-2.4},{"day":322.7,"temp":-2.1},{"day":323.4,"temp":-1.0},{"day":324.1,"temp":-1.3},{"day":324.9,"temp":-1.7},{"day":325.6,"temp":-1.9},{"day":326.3,"temp":-2.4},{"day":327.1,"temp":-1.9},{"day":327.8,"temp":-1.4},{"day":328.5,"temp":-2.7},{"day":329.2,"temp":-3.2},{"day":330.0,"temp":-2.4},{"day":330.7,"temp":-1.7},{"day":331.4,"temp":-2.2},{"day":332.2,"temp":-2.7},{"day":332.9,"temp":-2.4},{"day":333.6,"temp":-1.9},{"day":334.4,"temp":-1.0},{"day":335.1,"temp":-1.7},{"day":335.8,"temp":-2.2},{"day":336.6,"temp":-2.7},{"day":337.3,"temp":-2.4},{"day":338.0,"temp":-1.9},{"day":338.7,"temp":-2.2},{"day":339.5,"temp":-2.4},
{"day":339.9,"temp":-1.4},{"day":340.6,"temp":-1.9},{"day":341.4,"temp":-1.0},{"day":342.1,"temp":-0.7},{"day":342.8,"temp":-1.2},{"day":343.6,"temp":-1.7},{"day":344.3,"temp":-2.4},{"day":345.0,"temp":-1.7},{"day":345.8,"temp":-1.9},{"day":346.5,"temp":-2.2},{"day":347.2,"temp":-1.7},{"day":347.9,"temp":-2.4},{"day":348.7,"temp":-3.2},{"day":349.4,"temp":-2.2},{"day":350.1,"temp":-3.8},{"day":350.9,"temp":-2.7},{"day":351.6,"temp":-1.9},{"day":352.3,"temp":-1.7},{"day":353.1,"temp":-1.7},{"day":353.8,"temp":-1.4},{"day":354.5,"temp":-1.9},{"day":355.3,"temp":-3.4},{"day":356.0,"temp":-1.4},{"day":356.7,"temp":-1.9},{"day":357.5,"temp":-1.7},{"day":358.2,"temp":-2.2},{"day":358.9,"temp":-1.9},{"day":359.6,"temp":-1.7},{"day":360.4,"temp":-2.4},{"day":361.1,"temp":-1.9},{"day":361.8,"temp":-1.7},{"day":362.6,"temp":-1.4},{"day":363.3,"temp":-2.4},{"day":364.0,"temp":-1.7},{"day":364.8,"temp":-1.2},{"day":365.5,"temp":-1.7},{"day":366.2,"temp":-1.0},{"day":367.0,"temp":-0.7},{"day":367.7,"temp":-1.1},{"day":368.4,"temp":-1.4},{"day":369.2,"temp":-1.7},{"day":369.9,"temp":-1.2},{"day":370.6,"temp":-2.4},{"day":371.3,"temp":-1.4},{"day":372.1,"temp":-1.0},{"day":372.8,"temp":-1.2},{"day":373.5,"temp":-1.4},{"day":374.3,"temp":-1.0},{"day":375.0,"temp":-1.7},{"day":375.7,"temp":-1.0},{"day":376.5,"temp":-1.2},{"day":377.2,"temp":-1.7},{"day":377.9,"temp":-1.2},{"day":378.7,"temp":-2.4},{"day":379.4,"temp":0.0},{"day":380.1,"temp":-0.7},{"day":380.9,"temp":-2.4},{"day":381.6,"temp":-1.0},{"day":382.3,"temp":-0.7},{"day":383.0,"temp":-1.2},{"day":383.8,"temp":-1.9},{"day":384.5,"temp":-2.4},{"day":385.2,"temp":-1.4},{"day":386.0,"temp":-1.2},{"day":386.7,"temp":-0.5},{"day":387.4,"temp":0.0},{"day":388.2,"temp":-0.5},{"day":388.9,"temp":-0.7},{"day":389.6,"temp":-1.4},{"day":390.4,"temp":-1.9},{"day":391.1,"temp":-1.7},{"day":391.8,"temp":-2.4},{"day":392.5,"temp":-1.9},{"day":393.3,"temp":-1.7},{"day":394.0,"temp":-3.7},{"day":394.7,"temp":-2.2},{"day":395.5,"temp":-1.7},{"day":396.2,"temp":-1.4},{"day":396.9,"temp":-1.6},{"day":397.7,"temp":-1.4}
]
},
"layer": [
{
"data": {"name": "obs"},
"mark": {"type": "line", "strokeWidth": 1},
"encoding": {
"x": {"field": "day", "type": "quantitative", "scale": {"domain": [0, 400], "nice": false, "zero": false},
"axis": {"orient": "bottom", "values": [0,50,100,150,200,250,300,350,400], "labelExpr": "datum.value % 100 === 0 ? '' + datum.value : ''", "tickSize": -10, "tickColor": "black", "tickWidth": 1.5, "labelPadding": 26, "labelFont": "Liberation Serif", "labelFontSize": 33, "labelColor": "black", "labelFlush": false, "labelOverlap": false, "grid": false, "domain": false, "title": "Day of Year 1996", "titleFont": "Liberation Serif", "titleFontSize": 34.5, "titleFontWeight": "normal", "titleColor": "black", "titlePadding": 21}},
"y": {"field": "temp", "type": "quantitative", "scale": {"domain": [-40, 5], "nice": false, "zero": false},
"axis": {"orient": "left", "values": [-40,-35,-30,-25,-20,-15,-10,-5,0,5], "labelExpr": "datum.value % 10 === 0 ? '' + datum.value : ''", "tickSize": -10, "tickColor": "black", "tickWidth": 1.5, "labelPadding": 25, "labelFont": "Liberation Serif", "labelFontSize": 33, "labelColor": "black", "labelFlush": false, "labelOverlap": false, "grid": false, "domain": false, "title": "T(C)", "titleFont": "Liberation Serif", "titleFontSize": 34.5, "titleFontWeight": "normal", "titleColor": "black", "titlePadding": 60}},
"color": {"datum": "T2m_observed", "type": "nominal", "scale": {"domain": ["T2m_observed", "T_ECMWF"], "range": ["#00ff00", "#0000ff"]},
"legend": {"title": null, "labelFont": "Liberation Serif", "labelFontSize": 34, "encode": {"labels": {"update": {"font": {"value": "Liberation Serif"}, "fill": {"signal": "datum.label === 'T2m_observed' ? '#00ff00' : '#0000ff'"}}}}}},
"strokeDash": {"datum": "T2m_observed", "type": "nominal", "scale": {"domain": ["T2m_observed", "T_ECMWF"], "range": [[1, 0], [5, 3]]},
"legend": {"title": null, "labelFont": "Liberation Serif", "labelFontSize": 34, "encode": {"labels": {"update": {"font": {"value": "Liberation Serif"}, "fill": {"signal": "datum.label === 'T2m_observed' ? '#00ff00' : '#0000ff'"}}}}}}
}
},
{
"data": {"name": "ecm"},
"mark": {"type": "line", "strokeWidth": 1},
"encoding": {
"x": {"field": "day", "type": "quantitative", "axis": null},
"y": {"field": "temp", "type": "quantitative", "axis": null},
"color": {"datum": "T_ECMWF", "type": "nominal",
"legend": {"title": null, "labelFont": "Liberation Serif", "labelFontSize": 34, "encode": {"labels": {"update": {"font": {"value": "Liberation Serif"}, "fill": {"signal": "datum.label === 'T2m_observed' ? '#00ff00' : '#0000ff'"}}}}}},
"strokeDash": {"datum": "T_ECMWF", "type": "nominal",
"legend": {"title": null, "labelFont": "Liberation Serif", "labelFontSize": 34, "encode": {"labels": {"update": {"font": {"value": "Liberation Serif"}, "fill": {"signal": "datum.label === 'T2m_observed' ? '#00ff00' : '#0000ff'"}}}}}}
}
},
{
"data": {"values": [{}]},
"mark": {"type": "rect", "fillOpacity": 0, "stroke": "black", "strokeWidth": 2},
"encoding": {
"x": {"datum": -78.1, "type": "quantitative", "axis": {"orient": "top", "values": [0,50,100,150,200,250,300,350,400], "labels": false, "tickSize": -10, "tickColor": "black", "tickWidth": 1.5, "grid": false, "domain": false, "title": null}},
"x2": {"datum": 462.3},
"y": {"datum": 13.6, "type": "quantitative", "axis": {"orient": "right", "values": [-40,-35,-30,-25,-20,-15,-10,-5,0,5], "labels": false, "tickSize": -10, "tickColor": "black", "tickWidth": 1.5, "grid": false, "domain": false, "title": null}},
"y2": {"datum": -54.8}
}
}
],
"resolve": {"axis": {"x": "independent", "y": "independent"}}
}
